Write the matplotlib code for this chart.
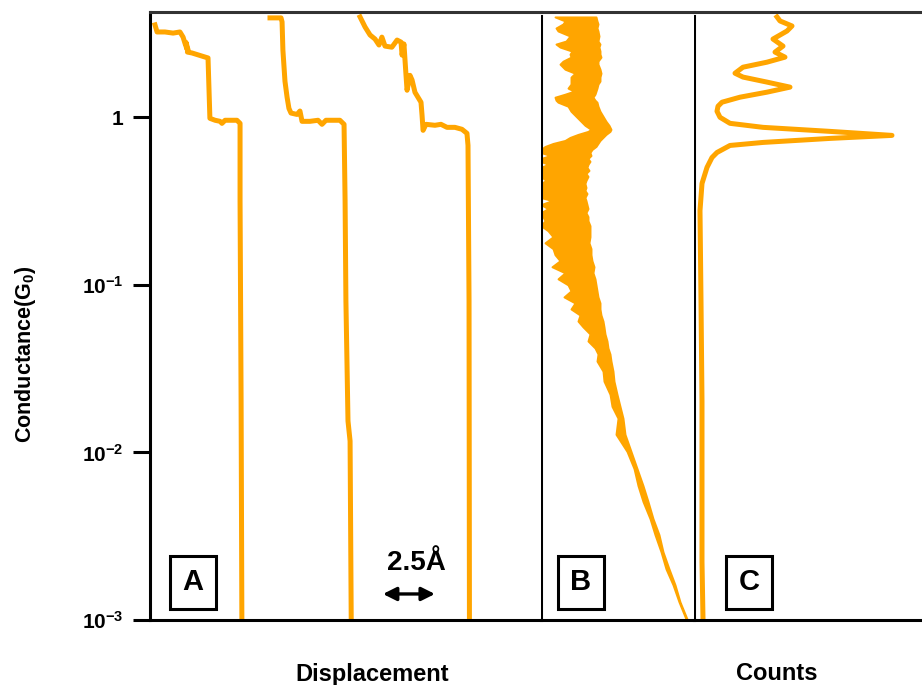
import numpy as np
import matplotlib
matplotlib.use("Agg")
import matplotlib.pyplot as plt
from matplotlib.ticker import NullLocator

plt.rcParams['font.family'] = ['Liberation Sans', 'DejaVu Sans']
plt.rcParams['font.weight'] = 'bold'
plt.rcParams['mathtext.fontset'] = 'custom'
plt.rcParams['mathtext.rm'] = 'Liberation Sans:bold'
plt.rcParams['mathtext.bf'] = 'Liberation Sans:bold'
plt.rcParams['mathtext.it'] = 'Liberation Sans:bold'

ORANGE = '#FFA500'

# --- A: individual breaking traces (displacement in Angstrom, conductance in G0)
trace1_x = [0.24, 0.34, 0.72, 1.11, 1.44, 1.59, 1.68, 1.78, 1.73, 1.84, 1.80, 2.02, 2.64,
            2.79, 2.88, 3.13, 3.37, 3.46, 3.61, 4.18, 4.33, 4.33, 4.38, 4.42]
trace1_g = [3.56, 3.23, 3.23, 3.18, 3.23, 3.01, 2.77, 2.55, 2.80, 2.50, 2.45, 2.42, 2.29,
            2.26, 0.986, 0.96, 0.946, 0.92, 0.96, 0.96, 0.92, 0.318, 0.0202, 0.0008]

trace2_x = [5.77, 6.30, 6.35, 6.39, 6.49, 6.59, 6.68, 6.78, 7.07, 7.21, 7.31, 7.69, 8.08,
            8.27, 8.46, 9.13, 9.33, 9.38, 9.42, 9.52, 9.62, 9.68]
trace2_g = [3.92, 3.92, 3.71, 2.52, 1.64, 1.32, 1.13, 1.06, 1.04, 1.09, 0.946, 0.946, 0.96,
            0.908, 0.96, 0.96, 0.908, 0.318, 0.080, 0.0154, 0.0117, 0.0008]

trace3_x = [10.10, 10.34, 10.58, 10.82, 11.01, 11.15, 11.30, 11.63, 11.88, 12.07, 12.12,
            12.21, 12.31, 12.36, 12.50, 12.60, 12.74, 12.88, 13.03, 13.08, 13.13, 13.27,
            13.70, 13.99, 14.28, 14.66, 15.00, 15.24, 15.29, 15.34, 15.36]
trace3_g = [3.97, 3.46, 3.10, 2.93, 2.70, 3.01, 2.66, 2.62, 2.89, 2.81, 2.35, 2.74, 1.78,
            1.45, 1.78, 1.67, 1.41, 1.32, 1.23, 1.03, 0.836, 0.908, 0.896, 0.908, 0.871,
            0.871, 0.848, 0.802, 0.68, 0.080, 0.0008]

# --- B: conductance histogram of all traces (log10 G bins, lower / upper count envelope)
b_logg = [0.599, 0.575, 0.557, 0.533, 0.515, 0.485, 0.455, 0.437, 0.419, 0.395, 0.377,
          0.359, 0.335, 0.317, 0.287, 0.263, 0.240, 0.216, 0.198, 0.174, 0.156, 0.138,
          0.120, 0.102, 0.090, 0.066, 0.036, 0.006, -0.024, -0.048, -0.072, -0.084,
          -0.102, -0.120, -0.138, -0.156, -0.174, -0.192, -0.210, -0.228, -0.246, -0.263,
          -0.281, -0.299, -0.317, -0.335, -0.353, -0.377, -0.395, -0.419, -0.437, -0.455,
          -0.479, -0.497, -0.521, -0.545, -0.569, -0.593, -0.617, -0.647, -0.677, -0.713,
          -0.749, -0.784, -0.820, -0.856, -0.892, -0.928, -0.964, -1.000, -1.036, -1.072,
          -1.108, -1.144, -1.180, -1.216, -1.251, -1.293, -1.335, -1.377, -1.413, -1.455,
          -1.515, -1.575, -1.653, -1.725, -1.796, -1.892, -1.994, -2.096, -2.198, -2.293,
          -2.395, -2.491, -2.593, -2.695, -2.790, -2.892, -2.994]
b_low = [14, 24, 22, 15, 17, 29, 25, 15, 19, 31, 29, 30, 22, 19, 24, 34, 30, 30, 30, 27,
         33, 24, 14, 15, 17, 27, 30, 35, 40, 44, 50, 47, 37, 29, 24, 12, 4, 0, 0, 9,
         0, 0, 7, 0, 0, 0, 0, 5, 0, 0, 0, 0, 0, 11, 0, 7, 0, 2, 4, 0,
         7, 12, 4, 12, 14, 19, 11, 24, 17, 27, 30, 23, 34, 30, 39, 37, 42, 49, 47, 54,
         57, 56, 62, 63, 69, 71, 77, 75, 86, 93, 97, 102, 109, 114, 120, 125, 132, 138, 145]
b_high = [55, 56, 57, 56, 57, 58, 57, 59, 58, 59, 59, 60, 57, 57, 59, 60, 59, 59, 57, 56,
          55, 54, 52, 54, 56, 57, 59, 62, 65, 68, 70, 69, 65, 62, 59, 57, 55, 51, 49, 50,
          47, 49, 47, 46, 48, 45, 47, 45, 44, 45, 44, 46, 44, 45, 46, 47, 45, 47, 47, 49,
          49, 49, 48, 50, 50, 51, 53, 52, 54, 55, 56, 57, 59, 59, 60, 62, 63, 64, 66, 67,
          69, 70, 72, 73, 76, 79, 82, 84, 90, 96, 102, 107, 112, 118, 122, 128, 134, 139, 146]

# --- C: smoothed conductance histogram
c_logg = [-2.994, -2.653, -2.293, -1.695, -1.096, -0.557, -0.395, -0.299, -0.240, -0.210,
          -0.168, -0.150, -0.126, -0.108, -0.084, -0.060, -0.036, 0.000, 0.036, 0.066,
          0.090, 0.120, 0.150, 0.180, 0.210, 0.240, 0.263, 0.299, 0.329, 0.359, 0.389,
          0.425, 0.467, 0.515, 0.545, 0.575, 0.599]
c_counts = [9, 8, 8, 8, 7, 6, 8, 13, 18, 23, 36, 69, 136, 198, 136, 69, 36, 26, 23, 24,
            28, 46, 73, 96, 73, 49, 41, 49, 73, 91, 81, 89, 79, 93, 98, 86, 83]

yticks = [1e-3, 1e-2, 1e-1, 1]
ytick_labels = [r'$\mathbf{10^{-3}}$', r'$\mathbf{10^{-2}}$', r'$\mathbf{10^{-1}}$', '1']

fig = plt.figure(figsize=(9.22, 6.85), dpi=100)
W, H = 922, 685
bot, top = 65 / H, (685 - 12) / H
axA = fig.add_axes([150 / W, bot, 391 / W, top - bot])
axB = fig.add_axes([541 / W, bot, 153 / W, top - bot], sharey=axA)
axC = fig.add_axes([694 / W, bot, 228 / W, top - bot], sharey=axA)

for tx, tg in ((trace1_x, trace1_g), (trace2_x, trace2_g), (trace3_x, trace3_g)):
    axA.plot(tx, tg, color=ORANGE, lw=3.6, solid_joinstyle='round')
axA.set_xlim(0, 18.8)

b_g = 10 ** np.array(b_logg)
axB.fill_betweenx(b_g, b_low, b_high, facecolor=ORANGE, edgecolor=ORANGE, lw=1.4)
axB.set_xlim(0, 153)

axC.plot(c_counts, 10 ** np.array(c_logg), color=ORANGE, lw=3.6)
axC.set_xlim(0, 228)

axA.set_yscale('log')
axA.set_ylim(1e-3, 4.25)
axA.set_yticks(yticks)
axA.set_yticklabels(ytick_labels)
axA.yaxis.set_minor_locator(NullLocator())
axA.tick_params(axis='y', length=12, width=2.2, labelsize=15, pad=7)

for ax in (axA, axB, axC):
    ax.set_facecolor('none')
    ax.set_xticks([])
    ax.spines['right'].set_visible(False)
    ax.spines['top'].set_linewidth(2.2)
    ax.spines['top'].set_color('#333333')
    ax.spines['bottom'].set_linewidth(2.2)
    ax.spines['left'].set_linewidth(2.2)
for ax in (axB, axC):
    ax.spines['left'].set_visible(False)
    ax.tick_params(axis='y', left=False, labelleft=False)
    ax.axvline(0, ymin=0, ymax=0.993, color='black', lw=2.2)

# panel tags
for ax, tag, xf in ((axA, 'A', 0.110), (axB, 'B', 0.261), (axC, 'C', 0.241)):
    ax.text(xf, 0.062, tag, transform=ax.transAxes, ha='center', va='center',
            fontsize=21, fontweight='bold',
            bbox=dict(boxstyle='square,pad=0.42', fc='white', ec='black', lw=2.2))

# 2.5 Angstrom scale bar
axA.annotate('', xy=(11.2, 1.43e-3), xytext=(13.7, 1.43e-3),
             arrowprops=dict(arrowstyle='<|-|>', color='black', lw=2.4,
                             mutation_scale=20, shrinkA=0, shrinkB=0))
axA.text(12.8, 2.2e-3, '2.5Å', ha='center', va='center', fontsize=20, fontweight='bold')

fig.text(26 / W, 1 - 354 / H, 'Conductance(G$_0$)', rotation=90, ha='center',
         va='center', fontsize=15.5, fontweight='bold')
fig.text(372 / W, 1 - 675 / H, 'Displacement', ha='center', va='center',
         fontsize=17, fontweight='bold')
fig.text(777 / W, 1 - 674 / H, 'Counts', ha='center', va='center',
         fontsize=17, fontweight='bold')

fig.savefig('out.png', dpi=100)
